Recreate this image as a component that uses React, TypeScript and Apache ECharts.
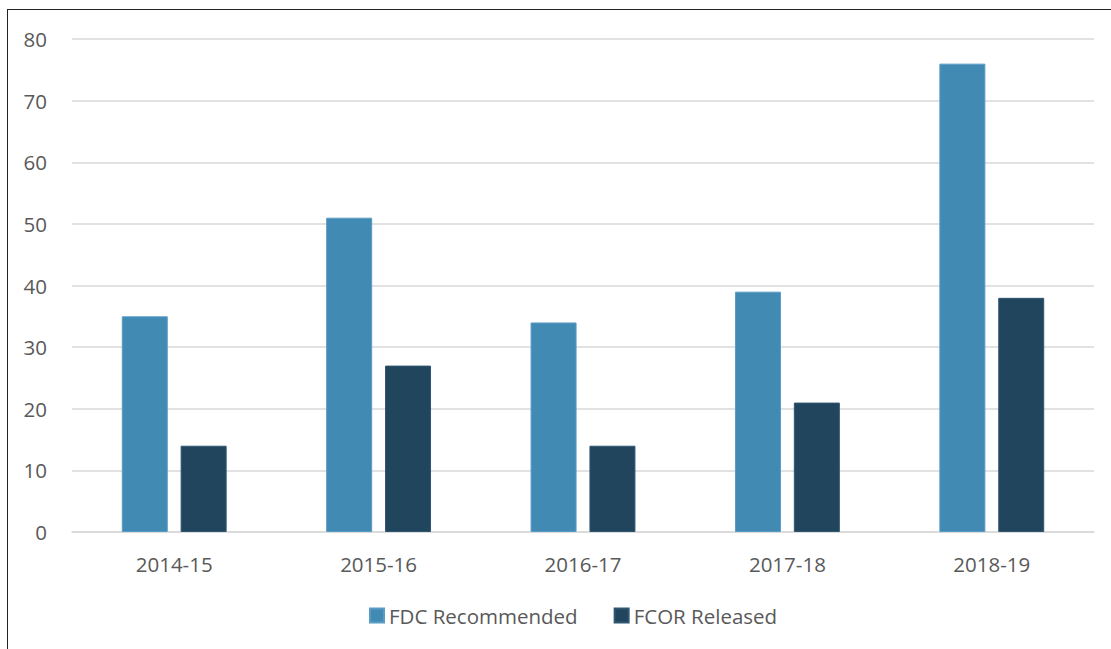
import React, { useEffect, useRef } from "react";
import * as echarts from "echarts";

const categories = ["2014-15", "2015-16", "2016-17", "2017-18", "2018-19"];
const fdcRecommended = [35, 51, 34, 39, 76];
const fcorReleased = [14, 27, 14, 21, 38];
const seriesNames = ["FDC Recommended", "FCOR Released"];

const FONT = "'Open Sans', 'Noto Sans', sans-serif";

export default function App() {
  const ref = useRef<HTMLDivElement>(null);
  useEffect(() => {
    if (!ref.current) return;
    const chart = echarts.init(ref.current, null, { renderer: "svg" });
    chart.setOption({
      animation: false,
      backgroundColor: "#ffffff",
      textStyle: { fontFamily: FONT },
      grid: { left: 72, right: 17, top: 39, bottom: 117, containLabel: false },
      legend: {
        top: 600,
        left: 364,
        itemWidth: 14,
        itemHeight: 14,
        itemGap: 36,
        icon: "rect",
        textStyle: { color: "#595959", fontSize: 20.5, fontFamily: FONT },
        data: seriesNames,
      },
      xAxis: {
        type: "category",
        data: categories,
        axisLine: { show: true, lineStyle: { color: "#d9d9d9", width: 1.5 } },
        axisTick: { show: false },
        axisLabel: { color: "#595959", fontSize: 20.5, margin: 21, fontFamily: FONT },
      },
      yAxis: {
        type: "value",
        min: 0,
        max: 80,
        interval: 10,
        axisLine: { show: false },
        axisTick: { show: false },
        axisLabel: { color: "#595959", fontSize: 20.5, margin: 25, fontFamily: FONT },
        splitLine: { lineStyle: { color: "#d9d9d9", width: 1.5 } },
      },
      series: [
        {
          name: seriesNames[0],
          type: "bar",
          data: fdcRecommended,
          barWidth: "22.5%",
          barGap: "28%",
          itemStyle: { color: "#418AB3", borderColor: "#5A9BC4", borderWidth: 1 },
        },
        {
          name: seriesNames[1],
          type: "bar",
          data: fcorReleased,
          barWidth: "22.5%",
          barGap: "28%",
          itemStyle: { color: "#21455C", borderColor: "#2E5670", borderWidth: 1 },
        },
      ],
    });
    return () => chart.dispose();
  }, []);
  return (
    <>
      <div
        ref={ref}
        style={{ position: "fixed", left: 0, top: 0, width: 1111, height: 649 }}
      />
      <div
        style={{
          position: "fixed",
          left: 7,
          top: 9,
          width: 1120,
          height: 660,
          borderLeft: "1.5px solid #222",
          borderTop: "1.5px solid #222",
          pointerEvents: "none",
        }}
      />
    </>
  );
}
